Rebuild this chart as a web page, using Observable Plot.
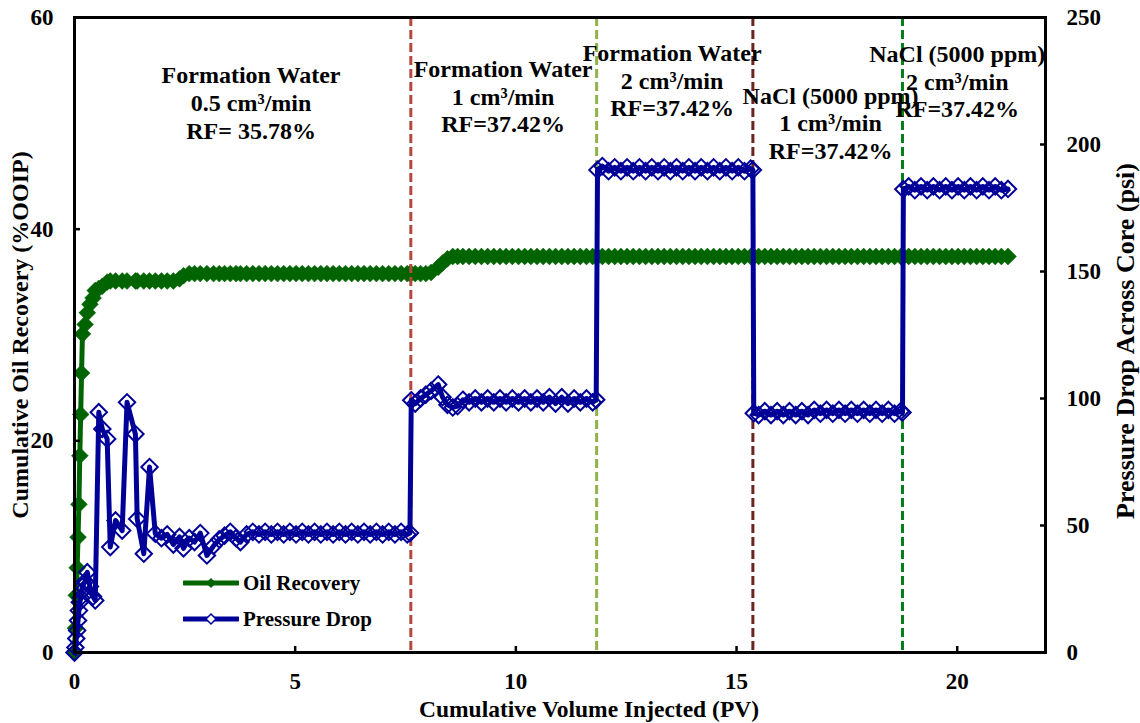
<!DOCTYPE html>
<html>
<head>
<meta charset="utf-8">
<script src="https://cdn.jsdelivr.net/npm/d3@7"></script>
<script src="https://cdn.jsdelivr.net/npm/@observablehq/plot@0.6"></script>
<style>
  body { margin: 0; background: #fff; }
  #wrap { position: relative; width: 1140px; height: 723px; font-family: "Liberation Serif", "Times New Roman", serif; }
  .leg { position: absolute; left: 183px; display: flex; align-items: center; font-weight: bold; font-size: 21px; color: #000; height: 24px; }
  .leg svg { margin-right: 4px; }
</style>
</head>
<body>
<div id="wrap">
  <div class="leg" style="top:571px">
    <svg width="56" height="14"><line x1="1" y1="7" x2="55" y2="7" stroke="#006400" stroke-width="5" stroke-linecap="round"/><path d="M28,2 L33,7 L28,12 L23,7 Z" fill="#006400"/></svg>Oil Recovery
  </div>
  <div class="leg" style="top:607px">
    <svg width="56" height="14"><line x1="1" y1="7" x2="55" y2="7" stroke="#000099" stroke-width="5" stroke-linecap="round"/><path d="M28,2 L33,7 L28,12 L23,7 Z" fill="#fff" stroke="#000099" stroke-width="1.5"/></svg>Pressure Drop
  </div>
</div>
<script>
// ---- data ----
const pv = [0, 0.02, 0.04, 0.06, 0.08, 0.10, 0.12, 0.14, 0.16, 0.18, 0.24, 0.29, 0.35, 0.42, 0.47, 0.55, 0.63, 0.74, 0.81, 0.93, 1.08, 1.19, 1.38, 1.42, 1.57, 1.70,
  1.83, 1.97, 2.10, 2.24, 2.38, 2.47, 2.60, 2.72, 2.85, 3.00, 3.15, 3.28, 3.40, 3.53, 3.66, 3.76, 3.90, 4.04, 4.18, 4.32, 4.46, 4.60, 4.74, 4.88, 5.02, 5.16, 5.30, 5.44, 5.58, 5.72, 5.86, 6.00, 6.14, 6.28, 6.42, 6.56, 6.70, 6.84, 6.98, 7.12, 7.26, 7.40, 7.54, 7.60,
  7.63, 7.72, 7.84, 7.96, 8.08, 8.24, 8.34, 8.45, 8.57, 8.68, 8.80, 8.94, 9.08, 9.22, 9.36, 9.50, 9.64, 9.78, 9.92, 10.06, 10.20, 10.34, 10.48, 10.62, 10.76, 10.90, 11.04, 11.18, 11.32, 11.46, 11.60, 11.74, 11.82,
  11.85, 11.96, 12.10, 12.24, 12.38, 12.52, 12.66, 12.80, 12.94, 13.08, 13.22, 13.36, 13.50, 13.64, 13.78, 13.92, 14.06, 14.20, 14.34, 14.48, 14.62, 14.76, 14.90, 15.04, 15.18, 15.32, 15.37,
  15.39, 15.50, 15.64, 15.78, 15.92, 16.06, 16.20, 16.34, 16.48, 16.62, 16.76, 16.90, 17.04, 17.18, 17.32, 17.46, 17.60, 17.74, 17.88, 18.02, 18.16, 18.30, 18.44, 18.58, 18.72, 18.76,
  18.78, 18.90, 19.04, 19.18, 19.32, 19.46, 19.60, 19.74, 19.88, 20.02, 20.16, 20.30, 20.44, 20.58, 20.72, 20.86, 21.00, 21.15];

const oilRecovery = [0, 2.3, 5.4, 8.0, 10.9, 14.0, 18.6, 22.5, 26.4, 30.1, 31.0, 32.1, 32.9, 33.5, 34.2, 34.4, 34.6, 35.0, 35.1, 35.1, 35.1, 35.1, 35.1, 35.1, 35.1, 35.1,
  35.1, 35.1, 35.1, 35.1, 35.3, 35.6, 35.8, 35.8, 35.8, 35.8, 35.8, 35.8, 35.8, 35.8, 35.8, 35.8, 35.8, 35.8, 35.8, 35.8, 35.8, 35.8, 35.8, 35.8, 35.8, 35.8, 35.8, 35.8, 35.8, 35.8, 35.8, 35.8, 35.8, 35.8, 35.8, 35.8, 35.8, 35.8, 35.8, 35.8, 35.8, 35.8, 35.8, 35.8,
  35.8, 35.8, 35.8, 35.8, 35.9, 36.4, 36.8, 37.2, 37.42, 37.42, 37.42, 37.42, 37.42, 37.42, 37.42, 37.42, 37.42, 37.42, 37.42, 37.42, 37.42, 37.42, 37.42, 37.42, 37.42, 37.42, 37.42, 37.42, 37.42, 37.42, 37.42, 37.42, 37.42,
  37.42, 37.42, 37.42, 37.42, 37.42, 37.42, 37.42, 37.42, 37.42, 37.42, 37.42, 37.42, 37.42, 37.42, 37.42, 37.42, 37.42, 37.42, 37.42, 37.42, 37.42, 37.42, 37.42, 37.42, 37.42, 37.42, 37.42,
  37.42, 37.42, 37.42, 37.42, 37.42, 37.42, 37.42, 37.42, 37.42, 37.42, 37.42, 37.42, 37.42, 37.42, 37.42, 37.42, 37.42, 37.42, 37.42, 37.42, 37.42, 37.42, 37.42, 37.42, 37.42, 37.42,
  37.42, 37.42, 37.42, 37.42, 37.42, 37.42, 37.42, 37.42, 37.42, 37.42, 37.42, 37.42, 37.42, 37.42, 37.42, 37.42, 37.42, 37.42];

const pressureDrop = [0, 2, 5.5, 8.7, 12.6, 16.5, 19.8, 21.6, 24, 26, 28, 31.6, 26, 22, 20.5, 94.6, 88, 84.1, 41.5, 52, 48, 98.5, 86, 52.6, 38.9, 73,
  46.8, 45.0, 46.5, 42.5, 45.5, 41.0, 45.0, 43.5, 47.0, 38.2, 42.0, 44.5, 46.0, 47.5, 45.0, 43.5, 46.5, 47.5, 46.5, 47.5, 46.5, 47.5, 46.5, 47.5, 46.5, 47.5, 46.5, 47.5, 46.5, 47.5, 46.5, 47.5, 46.5, 47.5, 46.5, 47.5, 46.5, 47.5, 46.5, 47.5, 46.5, 47.5, 46.5, 47.0,
  99.3, 98.0, 100.0, 101.5, 103.0, 105.5, 100.5, 97.5, 96.5, 97.0, 99.5, 98.5, 100, 98.5, 100, 98.5, 100, 98.5, 100, 98.5, 100, 98.5, 100, 98.5, 100.5, 98, 100.5, 98, 100, 98.5, 100, 98.5, 99.5,
  190, 191.5, 189.5, 191, 189.5, 191, 189.5, 191, 189.5, 191, 189.5, 191, 189.5, 191, 189.5, 191, 189.5, 191, 189.5, 191, 189.5, 191, 189.5, 191, 189.5, 190.5, 190,
  94.2, 93.5, 95, 93.5, 95, 93.5, 95, 93.5, 95, 93.5, 95.5, 94, 95.5, 94, 95.5, 94, 95.5, 94, 95.5, 94, 95.5, 94, 95.5, 94, 95, 94.5,
  182.4, 183.5, 182, 183.5, 182, 183.5, 182, 183.5, 182, 183.5, 182, 183.5, 182, 183.5, 182, 183.5, 182, 182.5];

// injection switches (PV)
const switchPV = [7.62, 11.83, 15.37, 18.76];

// annotation labels (x in PV, y in %OOIP)
const noteText = [
  "Formation Water\n0.5 cm³/min\nRF= 35.78%",
  "Formation Water\n1 cm³/min\nRF=37.42%",
  "Formation Water\n2 cm³/min\nRF=37.42%",
  "NaCl (5000 ppm)\n1 cm³/min\nRF=37.42%",
  "NaCl (5000 ppm)\n2 cm³/min\nRF=37.42%"
];
const noteX = [4.0, 9.71, 13.54, 17.13, 20.0];
const noteY = [52.0, 52.6, 54.1, 50.1, 54.0];

const xTicks = [0, 5, 10, 15, 20];
const leftTicks = [0, 20, 40, 60];
const rightTicks = [0, 50, 100, 150, 200, 250];

// ---- styles ----
const GREEN = "#006400";
const BLUE = "#000099";
const switchColors = ["#b5473f", "#8fb34a", "#6b2420", "#00801a"];
const K = 60 / 250; // psi -> left axis units

const rows = pv.map((p, i) => ({pv: p, oil: oilRecovery[i], dp: pressureDrop[i]}));
const switches = switchPV.map((p, i) => ({pv: p, color: switchColors[i]}));
const notes = noteText.map((t, i) => ({text: t, x: noteX[i], y: noteY[i]}));

const chart = Plot.plot({
  width: 1140,
  height: 723,
  marginLeft: 74,
  marginRight: 95,
  marginTop: 17,
  marginBottom: 71,
  x: {domain: [0, 22]},
  y: {domain: [0, 60]},
  color: {type: "identity"},
  style: {fontFamily: "'Liberation Serif', 'Times New Roman', serif", fontWeight: "bold", fontSize: "23px", color: "#000", background: "#fff"},
  marks: [
    Plot.line(rows, {x: "pv", y: "oil", stroke: GREEN, strokeWidth: 5, strokeLinejoin: "round"}),
    Plot.dot(rows, {x: "pv", y: "oil", symbol: "diamond2", r: 7.6, fill: GREEN, stroke: GREEN, strokeWidth: 0.5}),
    Plot.ruleX(switches, {x: "pv", stroke: "color", strokeWidth: 3, strokeDasharray: "9,4"}),
    Plot.line(rows, {x: "pv", y: d => d.dp * K, stroke: BLUE, strokeWidth: 5, strokeLinejoin: "round"}),
    Plot.dot(rows, {x: "pv", y: d => d.dp * K, symbol: "diamond2", r: 7.4, fill: "none", stroke: BLUE, strokeWidth: 2}),
    Plot.frame({stroke: "#000", strokeWidth: 3}),
    Plot.axisX(xTicks, {tickSize: -6, tickPadding: 26, strokeWidth: 2.5, label: null, tickFormat: d => String(d)}),
    Plot.axisY(leftTicks, {anchor: "left", tickSize: -6, tickPadding: 27, strokeWidth: 2.5, label: null, tickFormat: d => String(d)}),
    Plot.axisY(rightTicks.map(v => v * K), {anchor: "right", tickSize: -6, tickPadding: 27, strokeWidth: 2.5, label: null, tickFormat: d => String(Math.round(d / K))}),
    Plot.text(["Cumulative Volume Injected (PV)"], {frameAnchor: "bottom", dx: 29, dy: 57, lineAnchor: "middle", fontSize: 23.5}),
    Plot.text(["Cumulative Oil Recovery (%OOIP)"], {frameAnchor: "left", textAnchor: "middle", rotate: -90, dx: -54, fontSize: 24}),
    Plot.text(["Pressure Drop Across Core (psi)"], {frameAnchor: "right", textAnchor: "middle", rotate: -90, dx: 80, dy: 6, fontSize: 26}),
    Plot.text(notes, {x: "x", y: "y", text: "text", lineHeight: 1.15, lineAnchor: "middle", fontSize: 24})
  ]
});
document.getElementById("wrap").prepend(chart);
</script>
</body>
</html>
